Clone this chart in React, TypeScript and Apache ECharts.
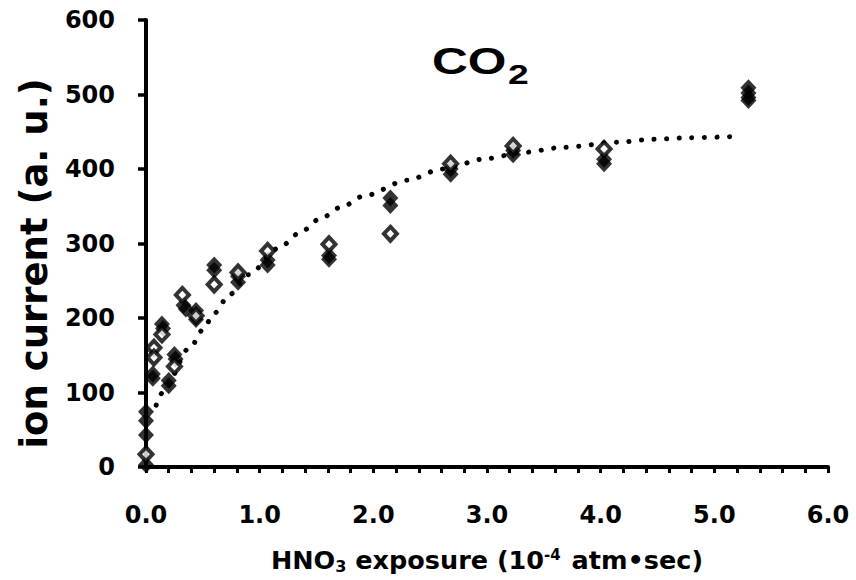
import React, { useEffect, useRef } from "react";
import * as echarts from "echarts";

// Filled diamonds (exposure in 1e-4 atm·sec, ion current a.u.)
const filledExposure = [0, 0, 0, 0, 0.06, 0.06, 0.14, 0.15, 0.2, 0.2, 0.25, 0.26, 0.33, 0.35, 0.44, 0.44, 0.6, 0.6, 0.81, 0.81, 1.07, 1.07, 1.61, 1.61, 2.15, 2.15, 2.68, 2.68, 3.23, 3.23, 4.03, 4.03, 5.3, 5.3, 5.3, 5.3];
const filledCurrent = [74, 62, 43, 3, 125, 119, 192, 186, 116, 109, 151, 145, 217, 212, 210, 198, 271, 264, 256, 248, 278, 271, 284, 279, 361, 351, 400, 393, 425, 419, 413, 407, 509, 502, 496, 492];

// Hollow diamonds
const hollowExposure = [0, 0.07, 0.07, 0.14, 0.25, 0.32, 0.44, 0.6, 0.81, 1.07, 1.61, 2.15, 2.68, 3.23, 4.03];
const hollowCurrent = [17, 160, 147, 178, 135, 231, 203, 245, 261, 290, 299, 313, 407, 431, 427];

// Dotted trend line
const trendExposure = [0.09, 0.14, 0.39, 0.51, 0.59, 0.74, 0.9, 1.17, 1.35, 1.53, 1.72, 1.92, 2.3, 2.6, 3.0, 3.3, 3.67, 4.15, 4.47, 4.79, 5.24];
const trendCurrent = [83, 99, 161, 186, 205, 232, 258, 294, 314, 333, 349, 364, 385, 400, 414, 422, 429, 436, 440, 442, 444];

const FONT = "DejaVu Sans";

export default function App() {
  const ref = useRef<HTMLDivElement>(null);
  useEffect(() => {
    document.body.style.margin = "0";
    if (!ref.current) return;
    const chart = echarts.init(ref.current, null, { renderer: "svg" });
    const pair = (xs: number[], ys: number[]) => xs.map((x, i) => [x, ys[i]]);
    chart.setOption({
      animation: false,
      backgroundColor: "#fff",
      grid: { left: 146, right: 28, top: 20, bottom: 113, containLabel: false, outerBoundsMode: "none" },
      xAxis: {
        type: "value",
        min: 0,
        max: 6,
        interval: 1,
        name: "{n|HNO}{sub|3}{n| exposure (10}{sup|-4}{n| atm•sec)}",
        nameLocation: "middle",
        nameGap: 78,
        nameTextStyle: {
          rich: {
            n: { fontFamily: FONT, fontWeight: "bold", fontSize: 25.5, color: "#000", lineHeight: 30 },
            sub: { fontFamily: FONT, fontWeight: "bold", fontSize: 16, color: "#000", lineHeight: 30, padding: [12, 0, 0, 0] },
            sup: { fontFamily: FONT, fontWeight: "bold", fontSize: 15, color: "#000", lineHeight: 30, padding: [0, 2, 10, 0] },
          },
        },
        axisLine: { lineStyle: { color: "#000", width: 4 } },
        axisTick: { show: true, inside: false, length: 6, lineStyle: { color: "#000", width: 3 } },
        minorTick: { show: true, splitNumber: 5, length: 6, lineStyle: { color: "#000", width: 3 } },
        splitLine: { show: false },
        axisLabel: {
          formatter: (v: number) => v.toFixed(1),
          fontFamily: FONT,
          fontWeight: "bold",
          fontSize: 24,
          color: "#000",
          margin: 36,
        },
      },
      yAxis: {
        type: "value",
        min: 0,
        max: 600,
        interval: 100,
        name: "ion current (a. u.)",
        nameLocation: "middle",
        nameGap: 93,
        nameRotate: 90,
        nameTextStyle: { fontFamily: FONT, fontWeight: "bold", fontSize: 37, color: "#000", padding: [0, 40, 0, 0] },
        axisLine: { lineStyle: { color: "#000", width: 4 } },
        axisTick: { show: true, inside: false, length: 8, lineStyle: { color: "#000", width: 3.5 } },
        splitLine: { show: false },
        axisLabel: {
          fontFamily: FONT,
          fontWeight: "bold",
          fontSize: 24,
          color: "#000",
          margin: 31,
        },
      },
      graphic: [
        {
          type: "text",
          x: 432,
          y: 42,
          scaleX: 1.38,
          style: {
            text: "{a|CO}{b|2}",
            rich: {
              a: { fontFamily: "Liberation Sans", fontWeight: "bold", fontSize: 36, fill: "#000", lineHeight: 40 },
              b: { fontFamily: "Liberation Sans", fontWeight: "bold", fontSize: 27, fill: "#000", lineHeight: 40, padding: [26, 0, 0, 1] },
            },
          },
        },
      ],
      series: [
        {
          type: "line",
          data: pair(trendExposure, trendCurrent),
          smooth: 0.3,
          smoothMonotone: "x",
          showSymbol: false,
          symbol: "none",
          lineStyle: { color: "#000", width: 5, type: [0.1, 12.5], cap: "round" },
          z: 1,
        },
        {
          type: "scatter",
          data: pair(filledExposure, filledCurrent),
          symbol: "diamond",
          symbolSize: [16, 17],
          itemStyle: { color: "#000" },
          z: 2,
        },
        {
          type: "scatter",
          data: pair(hollowExposure, hollowCurrent),
          symbol: "diamond",
          symbolSize: [13, 14],
          itemStyle: { color: "#fff", borderColor: "#000", borderWidth: 4 },
          z: 3,
        },
      ],
    });
    return () => chart.dispose();
  }, []);
  return <div ref={ref} style={{ width: 856, height: 580 }} />;
}
